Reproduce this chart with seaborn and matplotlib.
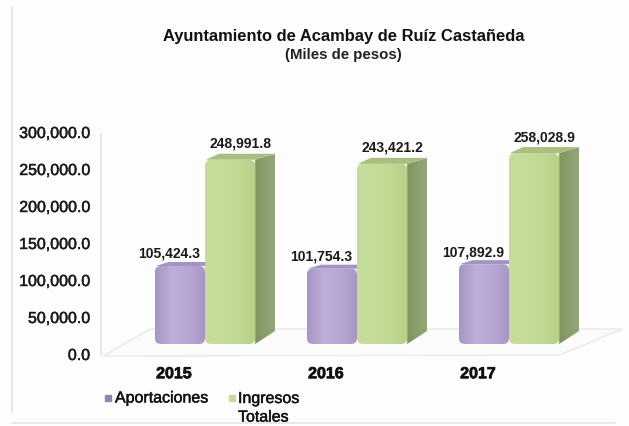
import numpy as np
import pandas as pd
import matplotlib
matplotlib.use('Agg')
import matplotlib.pyplot as plt
import matplotlib.patheffects as pe
from matplotlib.patches import FancyBboxPatch, Polygon
from matplotlib.lines import Line2D
from matplotlib.colors import LinearSegmentedColormap
from matplotlib.transforms import ScaledTranslation
import seaborn as sns

# --- datos ---
anios = ['2015', '2016', '2017']
aportaciones = [105424.3, 101754.3, 107892.9]
ingresos = [248991.8, 243421.2, 258028.9]
serie_a = 'Aportaciones'
serie_b = 'Ingresos\nTotales'
ticks_y = [0, 50000, 100000, 150000, 200000, 250000, 300000]

df = pd.DataFrame({
    'anio': anios * 2,
    'valor': aportaciones + ingresos,
    'serie': [serie_a] * 3 + [serie_b] * 3,
})

sns.set_theme(style='white')
plt.rcParams['font.family'] = ['Liberation Sans', 'DejaVu Sans']
W, H = 629, 427
fig = plt.figure(figsize=(W / 100, H / 100), dpi=100, facecolor='#fdfdfd')
ax = fig.add_axes([129 / W, 82 / H, 456 / W, 222 / H])
ax.patch.set_alpha(0)

colores = {serie_a: '#b7a7d3', serie_b: '#c4dc95'}
sns.barplot(data=df, x='anio', y='valor', hue='serie', palette=colores,
            width=0.66, gap=0, legend=False, ax=ax, zorder=3)
ax.set_xlabel('')
ax.set_ylabel('')
sns.despine(ax=ax, left=True, bottom=True)

# --- marco y piso, en pixeles de la figura ---
def px(x, y):
    return x / W, 1 - y / H

fig.add_artist(Line2D(*zip(px(12, 8), px(12, 413)), color='#e2e2e2', lw=1.2))
fig.add_artist(Line2D(*zip(px(12, 424), px(615, 424)), color='#e8e8e8', lw=1.5))
fig.add_artist(Line2D(*zip(px(101, 135), px(101, 356)), color='#e8e8e8', lw=1.5))
fig.add_artist(Polygon([px(103, 357), px(560, 356), px(622, 330), px(150, 330)],
                       closed=True, facecolor='#fbfbfb', edgecolor='#ececec', lw=1.2, zorder=0))

# --- efecto 3D de cada barra ---
px_x = 456 / 3          # pixeles por categoria
px_y = 222 / 300000     # pixeles por peso
dx = 20 / px_x
base = 13 / px_y
mapas = {
    serie_a: LinearSegmentedColormap.from_list('a', ['#a596c4', '#bdafd8', '#b7a7d3', '#a596c4']),
    serie_b: LinearSegmentedColormap.from_list('b', ['#c6dd9c', '#c4dc98', '#bfd892', '#b8d18a']),
}
lateral = LinearSegmentedColormap.from_list('c', ['#7f9560', '#94a678'])
tapas = {serie_a: '#a494c2', serie_b: '#a9bf80'}

barras = list(ax.patches)
for i, bar in enumerate(barras):
    serie = serie_a if i < 3 else serie_b
    x0, w, h = bar.get_x(), bar.get_width(), bar.get_height()
    z = 4 if serie == serie_a else 6
    tapa = (4 if serie == serie_a else 6) / px_y
    if serie == serie_b:
        lado = Polygon([(x0 + w, 0), (x0 + w + dx, base), (x0 + w + dx, h + tapa), (x0 + w, h)],
                       facecolor='none', edgecolor='none', zorder=z)
        ax.add_patch(lado)
        img = ax.imshow(np.linspace(0, 1, 32).reshape(1, -1), cmap=lateral, aspect='auto',
                        extent=(x0 + w, x0 + w + dx, 0, h + tapa), zorder=z)
        img.set_clip_path(lado)
    ax.add_patch(Polygon([(x0 + 0.005, h), (x0 + dx * 0.7, h + tapa), (x0 + w + dx * 0.98, h + tapa), (x0 + w, h)],
                         facecolor=tapas[serie], edgecolor='none', zorder=z))
    cara = FancyBboxPatch((x0, 0), w, h, boxstyle='round,pad=0,rounding_size=0.04',
                          mutation_aspect=px_x / px_y, transform=ax.transData,
                          facecolor='none', edgecolor='none', zorder=z + 1)
    ax.add_patch(cara)
    img = ax.imshow(np.linspace(0, 1, 64).reshape(1, -1), cmap=mapas[serie], aspect='auto',
                    extent=(x0, x0 + w, 0, h), zorder=z + 1)
    img.set_clip_path(cara)
    bar.set_visible(False)
ax.set_xlim(-0.5, 2.5)
ax.set_ylim(0, 300000)

# --- etiquetas de valor ---
for i, bar in enumerate(barras):
    centro = bar.get_x() + bar.get_width() / 2
    despl = (-11, 6) if i < 3 else (10, 10)
    ax.annotate(f'{bar.get_height():,.1f}', (centro, bar.get_height()), xytext=despl,
                textcoords='offset pixels', ha='center', va='bottom',
                fontsize=10, fontweight='bold', color='#1a1a1a', zorder=10)

# --- ejes ---
grueso = [pe.withStroke(linewidth=0.35, foreground='#1a1a1a')]
ax.set_yticks(ticks_y)
ax.set_yticklabels([f'{t:,.1f}' for t in ticks_y], fontsize=11.5, color='#1a1a1a', path_effects=grueso)
ax.tick_params(axis='y', length=0, pad=28)
ax.tick_params(axis='x', length=0, pad=16)
ax.set_xticks(range(len(anios)))
ax.set_xticklabels(anios, fontsize=11.5, fontweight='bold', color='#111111',
                   path_effects=[pe.withStroke(linewidth=0.5, foreground='#111111')])
baja = ScaledTranslation(0, -10 / 100, fig.dpi_scale_trans)
for t in ax.get_yticklabels():
    t.set_transform(t.get_transform() + baja)
izq = ScaledTranslation(-31 / 100, 0, fig.dpi_scale_trans)
for t in ax.get_xticklabels():
    t.set_transform(t.get_transform() + izq)

# --- titulo ---
fig.text(344 / W, 1 - 36 / H, 'Ayuntamiento de Acambay de Ruíz Castañeda', ha='center', va='center',
         fontsize=11.9, fontweight='bold', color='#111111')
fig.text(343 / W, 1 - 55 / H, '(Miles de pesos)', ha='center', va='center',
         fontsize=10.8, fontweight='bold', color='#222222')

# --- leyenda ---
fig.add_artist(Line2D([px(108, 0)[0]], [px(0, 399)[1]], marker='s', ls='', color='#8f84ad', markersize=4.5))
fig.add_artist(Line2D([px(232, 0)[0]], [px(0, 399)[1]], marker='s', ls='', color='#c4dc95', markersize=4.5))
fig.text(115 / W, 1 - 399 / H, serie_a, ha='left', va='center', fontsize=11.5, color='#111111', path_effects=grueso)
fig.text(238 / W, 1 - 392 / H, serie_b, ha='left', va='top', fontsize=11.5, color='#111111', path_effects=grueso,
         linespacing=1.3)

fig.savefig('out.png', dpi=100, facecolor=fig.get_facecolor())
